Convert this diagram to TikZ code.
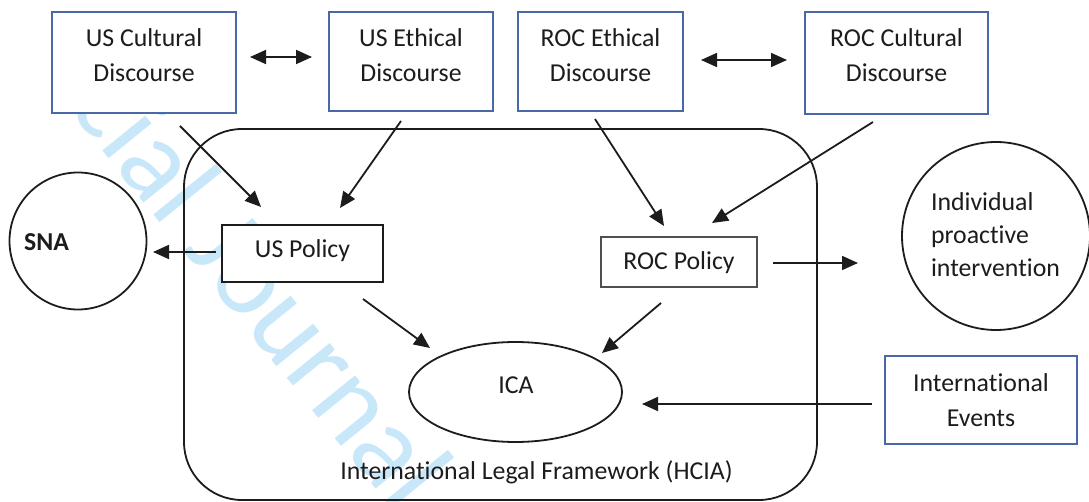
\documentclass[tikz,border=0pt]{standalone}
\usepackage{fontspec}
\setmainfont{Carlito}[Ligatures=NoCommon]
\usetikzlibrary{arrows.meta,calc,shapes.geometric}
\definecolor{boxblue}{RGB}{72,104,166}
\definecolor{wmblue}{RGB}{200,232,250}
\definecolor{ink}{RGB}{28,28,28}
\definecolor{greyline}{RGB}{80,80,80}
\begin{document}
\begin{tikzpicture}[x=1pt,y=-1pt,
  every node/.style={inner sep=0pt, outer sep=0pt},
  bluebox/.style={draw=boxblue, line width=1.8pt, fill=white, rectangle},
  policybox/.style={draw=ink, line width=1.8pt, fill=white, rectangle},
  ring/.style={draw=ink, line width=1.8pt, fill=white, circle},
  lbl/.style={font=\fontsize{25.8}{35}\selectfont, text=ink, align=center},
  tip/.tip={Triangle[length=16pt,width=14pt]},
  arr/.style={draw=ink, line width=1.8pt, -tip},
  dblarr/.style={draw=ink, line width=1.8pt, tip-tip},
]
\useasboundingbox (0,0) rectangle (1089,502);

% background watermark
\node[rotate=-51, text=wmblue, font=\fontsize{116}{116}\selectfont] (wm) at (263,286) {cial Journal};

% legal framework container
\node[draw=ink, line width=1.8pt, rounded corners=58pt, minimum width=633pt, minimum height=371pt] (frame) at (500.5,314.5) {};
\node[lbl] (frameT) at (536.5,472) {International Legal Framework (HCIA)};

% discourse boxes
\node[bluebox, minimum width=184pt, minimum height=101pt] (usc) at (144,62.5) {};
\node[lbl] (uscT) at (144,55) {US Cultural\\Discourse};
\node[bluebox, minimum width=164pt, minimum height=99pt] (use) at (411,61.5) {};
\node[lbl] (useT) at (411,55) {US Ethical\\Discourse};
\node[bluebox, minimum width=165pt, minimum height=99pt] (roce) at (600.5,61.5) {};
\node[lbl] (roceT) at (600.5,55) {ROC Ethical\\Discourse};
\node[bluebox, minimum width=183pt, minimum height=102pt] (rocc) at (896.5,63) {};
\node[lbl] (roccT) at (896.5,55.5) {ROC Cultural\\Discourse};

% policy boxes
\node[policybox, minimum width=161pt, minimum height=57pt] (usp) at (302.5,253.5) {};
\node[lbl] (uspT) at (302.5,251) {US Policy};
\node[policybox, draw=greyline, minimum width=156pt, minimum height=50pt] (rocp) at (679,262) {};
\node[lbl] (rocpT) at (679,263) {ROC Policy};

% international events
\node[bluebox, minimum width=192pt, minimum height=88pt] (ie) at (981,400) {};
\node[lbl] (ieT) at (981,400) {International\\Events};

% circles and ellipse
\node[ring, minimum size=137pt] (sna) at (78,241) {};
\node[lbl, font=\fontsize{25.8}{35}\selectfont\bfseries] (snaT) at (46.5,242) {SNA};
\node[ring, minimum size=188pt] (ind) at (996,236) {};
\node[lbl, align=left, font=\fontsize{25.8}{33}\selectfont] (indT) at (995.5,235) {Individual\\proactive\\intervention};
\node[draw=ink, line width=1.8pt, fill=white, ellipse, minimum width=213pt, minimum height=100pt] (ica) at (515.5,392) {};
\node[lbl] (icaT) at (516,385) {ICA};

% connectors
\draw[dblarr] ($(usc.east)+(14,-5.5)$) -- ($(use.west)+(-17,-4.5)$);
\draw[dblarr] ($(roce.east)+(18,-1.5)$) -- ($(rocc.west)+(-18,-3)$);
\draw[arr] ($(usc.south)+(36,13)$) -- ($(usp.north)+(-41.5,-18)$);
\draw[arr] ($(use.south)+(-10,10)$) -- ($(usp.north)+(37.5,-17)$);
\draw[arr] ($(roce.south)+(-5.5,8)$) -- ($(rocp.north)+(-15,-11)$);
\draw[arr] ($(rocc.south)+(-23.5,8)$) -- ($(rocp.north)+(33,-14)$);
\draw[arr] ($(usp.west)+(-6,-1.5)$) -- ($(sna.east)+(6.5,11)$);
\draw[arr] ($(usp.south)+(60.5,17)$) -- ($(ica.center)+(-85.5,-44)$);
\draw[arr] ($(rocp.south)+(-18,16)$) -- ($(ica.center)+(86.5,-39)$);
\draw[arr] ($(rocp.east)+(16,1)$) -- ($(ind.west)+(-44,27)$);
\draw[arr] ($(ie.west)+(-13,4)$) -- ($(ica.east)+(20,12)$);
\end{tikzpicture}
\end{document}
